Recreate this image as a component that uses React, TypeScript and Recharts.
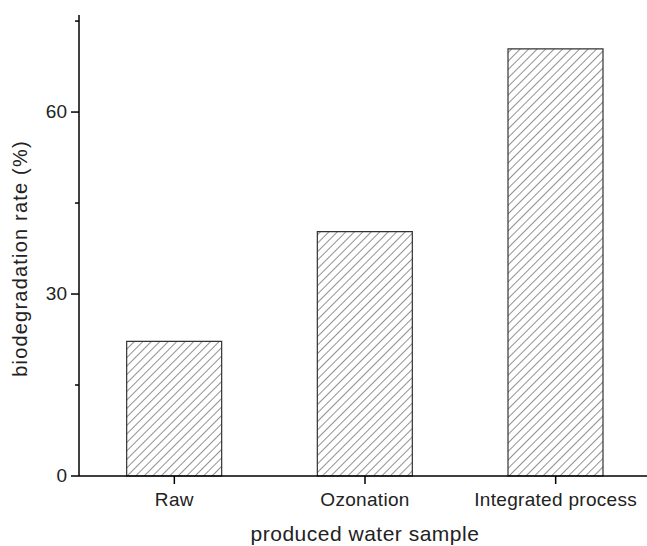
import React from 'react';
import { BarChart, Bar, XAxis, YAxis, Label } from 'recharts';

const categories = ['Raw', 'Ozonation', 'Integrated process'];
const rates = [22.2, 40.3, 70.4];
const yTicks = [0, 15, 30, 45, 60, 75];
const majorTicks = [0, 30, 60];

const data = categories.map((name, i) => ({ name, value: rates[i] }));

const FONT = '"Liberation Sans", Arial, sans-serif';

const YTick = (props: any) => {
  const { x, y, payload } = props;
  const major = majorTicks.includes(payload.value);
  // x is axis line minus tickSize (8)
  return (
    <g>
      <line x1={major ? x : x + 4} x2={x + 8} y1={y} y2={y} stroke="#000" strokeWidth={1.5} />
      {major && (
        <text x={x - 4} y={y} dy={6} textAnchor="end" fontSize={19} fontFamily={FONT} fill="#222">
          {payload.value}
        </text>
      )}
    </g>
  );
};

const YTitle = (props: any) => {
  const { viewBox } = props;
  const x = viewBox.x + 7;
  const y = viewBox.y + viewBox.height / 2 + 13;
  return (
    <text
      x={x}
      y={y}
      transform={`rotate(-90, ${x}, ${y})`}
      textAnchor="middle"
      fontSize={20}
      fontFamily={FONT}
      letterSpacing={1.2}
      fill="#222"
    >
      biodegradation rate (%)
    </text>
  );
};

const App: React.FC = () => {
  return (
    <div style={{ position: 'absolute', left: 0, top: 0, width: 647, height: 546, overflow: 'hidden', background: '#fff' }}>
      <BarChart
        width={661}
        height={546}
        data={data}
        margin={{ top: 15, right: 10, left: 20, bottom: 10 }}
        barCategoryGap="25%"
      >
        <defs>
          <pattern id="hatch" patternUnits="userSpaceOnUse" width={6} height={6} patternTransform="rotate(45)">
            <rect width={6} height={6} fill="#fff" />
            <line x1={0} y1={0} x2={0} y2={6} stroke="#555" strokeWidth={1.3} />
          </pattern>
        </defs>
        <XAxis
          dataKey="name"
          height={60}
          axisLine={{ stroke: '#000', strokeWidth: 1.5 }}
          tickLine={{ stroke: '#000', strokeWidth: 1.5 }}
          tickSize={8}
          tickMargin={9}
          tick={{ fill: '#222', fontSize: 19, fontFamily: FONT, letterSpacing: 0.3 }}
        >
          <Label
            value="produced water sample"
            position="insideBottom"
            offset={-5}
            style={{ fill: '#222', fontSize: 21, fontFamily: FONT, letterSpacing: 0.5 }}
          />
        </XAxis>
        <YAxis
          width={59}
          domain={[0, 76]}
          ticks={yTicks}
          interval={0}
          axisLine={{ stroke: '#000', strokeWidth: 1.5 }}
          tickLine={false}
          tickSize={8}
          tickMargin={0}
          tick={<YTick />}
        >
          <Label content={<YTitle />} />
        </YAxis>
        <Bar dataKey="value" fill="url(#hatch)" stroke="#333" strokeWidth={1.2} isAnimationActive={false} />
      </BarChart>
    </div>
  );
};

export default App;
